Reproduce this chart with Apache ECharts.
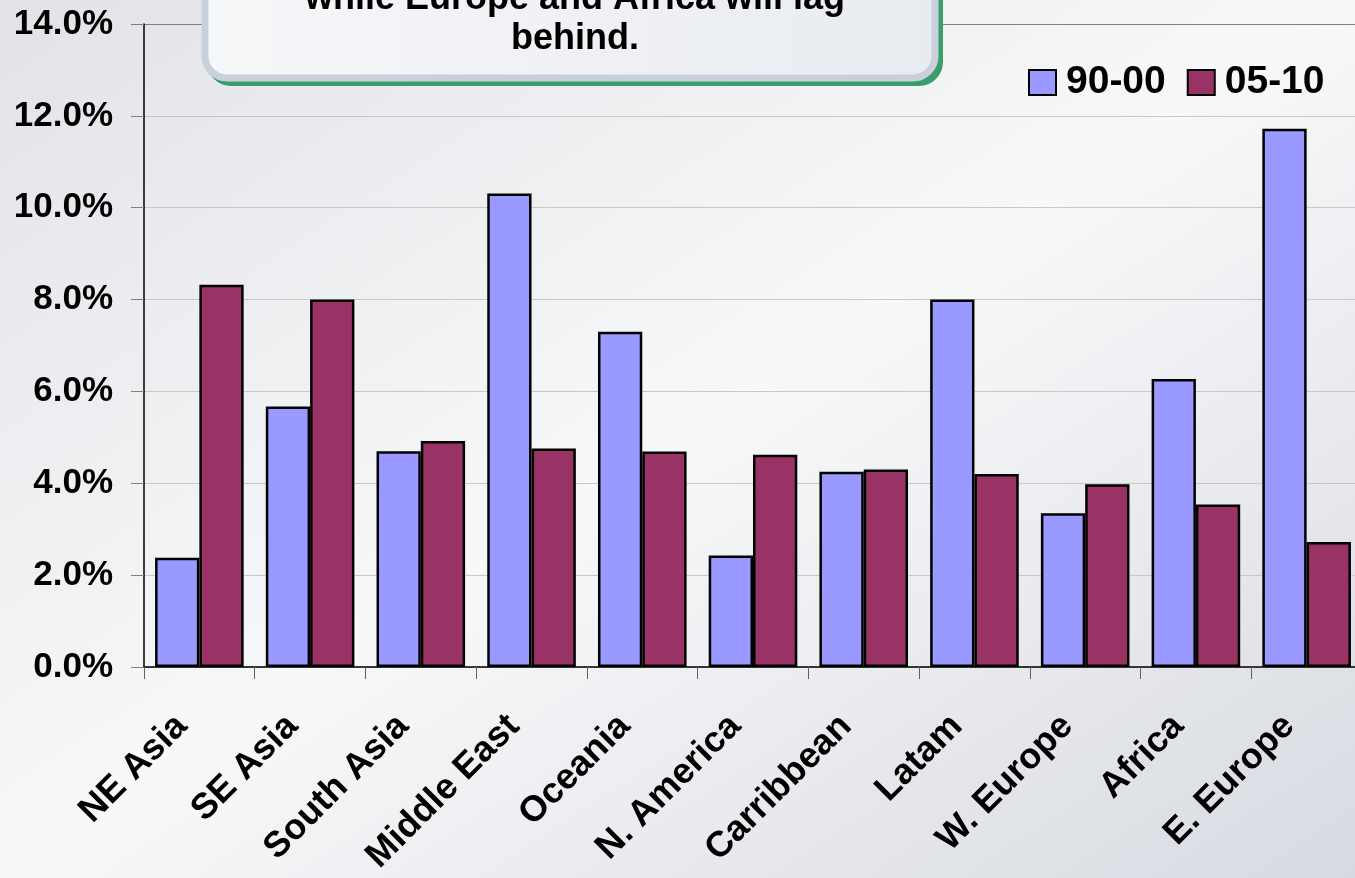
<!DOCTYPE html>
<html>
<head>
<meta charset="utf-8">
<script src="https://cdn.jsdelivr.net/npm/echarts@6/dist/echarts.min.js"></script>
<style>
  html, body { margin: 0; padding: 0; overflow: hidden; }
  body {
    width: 1355px;
    height: 878px;
    background: linear-gradient(to bottom right, #e1e3e7 0%, #f7f8f9 50%, #d7dae1 100%);
  }
  /* the plot runs a few pixels past the right edge of the page */
  #chart { width: 1362px; height: 878px; }
</style>
</head>
<body>
<div id="chart"></div>
<script>
// Regions on the category axis
const regions = ['NE Asia', 'SE Asia', 'South Asia', 'Middle East', 'Oceania', 'N. America',
                 'Carribbean', 'Latam', 'W. Europe', 'Africa', 'E. Europe'];
// Average annual growth, percent
const growth9000 = [2.38, 5.67, 4.70, 10.31, 7.30, 2.43, 4.25, 8.00, 3.35, 6.27, 11.72];
const growth0510 = [8.32, 8.00, 4.92, 4.76, 4.69, 4.62, 4.30, 4.20, 3.98, 3.54, 2.72];
const seriesNames = ['90-00', '05-10'];
// Value axis range and step, percent
const yMin = 0, yMax = 14, yStep = 2;
// Callout text (the upper part of the box runs off the top edge)
const calloutLines = ['while Europe and Africa will lag', 'behind.'];

const FONT = '"Liberation Sans", Arial, sans-serif';
const chart = echarts.init(document.getElementById('chart'), null, { renderer: 'canvas' });

const gridColors = [];
for (let v = yMin; v <= yMax; v += yStep) gridColors.push(v === yMax ? '#7f7f7f' : '#c8c8c8');

chart.setOption({
  backgroundColor: 'transparent',
  animation: false,
  grid: { left: 144, top: 24, right: 0, height: 643, containLabel: false },
  legend: {
    left: 1023, top: 58,
    itemWidth: 27, itemHeight: 25, itemGap: 21,
    icon: 'rect',
    textStyle: { fontFamily: FONT, fontWeight: 'bold', fontSize: 39, color: '#000', padding: [0, 0, 0, 5] },
    data: seriesNames
  },
  xAxis: {
    type: 'category',
    data: regions,
    axisLine: { lineStyle: { color: '#000', width: 1.5 } },
    axisTick: { show: true, length: 12, lineStyle: { color: '#606060', width: 1 } },
    axisLabel: {
      interval: 0, rotate: 45, margin: 36,
      padding: [0, 25, 0, 0],
      fontFamily: FONT, fontWeight: 'bold', fontSize: 36, color: '#000'
    },
    splitLine: { show: false }
  },
  yAxis: {
    type: 'value',
    min: yMin, max: yMax, interval: yStep,
    axisLine: { show: true, lineStyle: { color: '#000', width: 1.5 } },
    axisTick: { show: true, length: 13, lineStyle: { color: '#7f7f7f', width: 1 } },
    axisLabel: {
      margin: 31,
      formatter: v => v.toFixed(1) + '%',
      fontFamily: FONT, fontWeight: 'bold', fontSize: 35, color: '#000'
    },
    splitLine: { show: true, lineStyle: { color: gridColors, width: 1 } }
  },
  series: [
    {
      name: seriesNames[0], type: 'bar', data: growth9000,
      barGap: '0%', barCategoryGap: '20%',
      itemStyle: { color: '#9999ff', borderColor: '#000', borderWidth: 2.5 }
    },
    {
      name: seriesNames[1], type: 'bar', data: growth0510,
      barGap: '0%', barCategoryGap: '20%',
      itemStyle: { color: '#993366', borderColor: '#000', borderWidth: 2.5 }
    }
  ],
  graphic: [
    {
      type: 'rect', z: 100,
      shape: { x: 207, y: -120, width: 736, height: 206, r: 24 },
      style: { fill: '#3a9d6b' }
    },
    {
      type: 'rect', z: 101,
      shape: { x: 205, y: -120, width: 730, height: 198, r: 22 },
      style: {
        fill: new echarts.graphic.LinearGradient(0, 0, 1, 0, [
          { offset: 0, color: '#f6f7f9' },
          { offset: 1, color: '#e8ebf0' }
        ]),
        stroke: '#c9d0d9', lineWidth: 7
      }
    },
    {
      type: 'text', z: 102,
      style: {
        text: calloutLines.join('\n'),
        x: 575, y: 59,
        align: 'center', verticalAlign: 'bottom',
        font: 'bold 36px ' + FONT, lineHeight: 40, fill: '#000'
      }
    }
  ]
});
</script>
</body>
</html>
